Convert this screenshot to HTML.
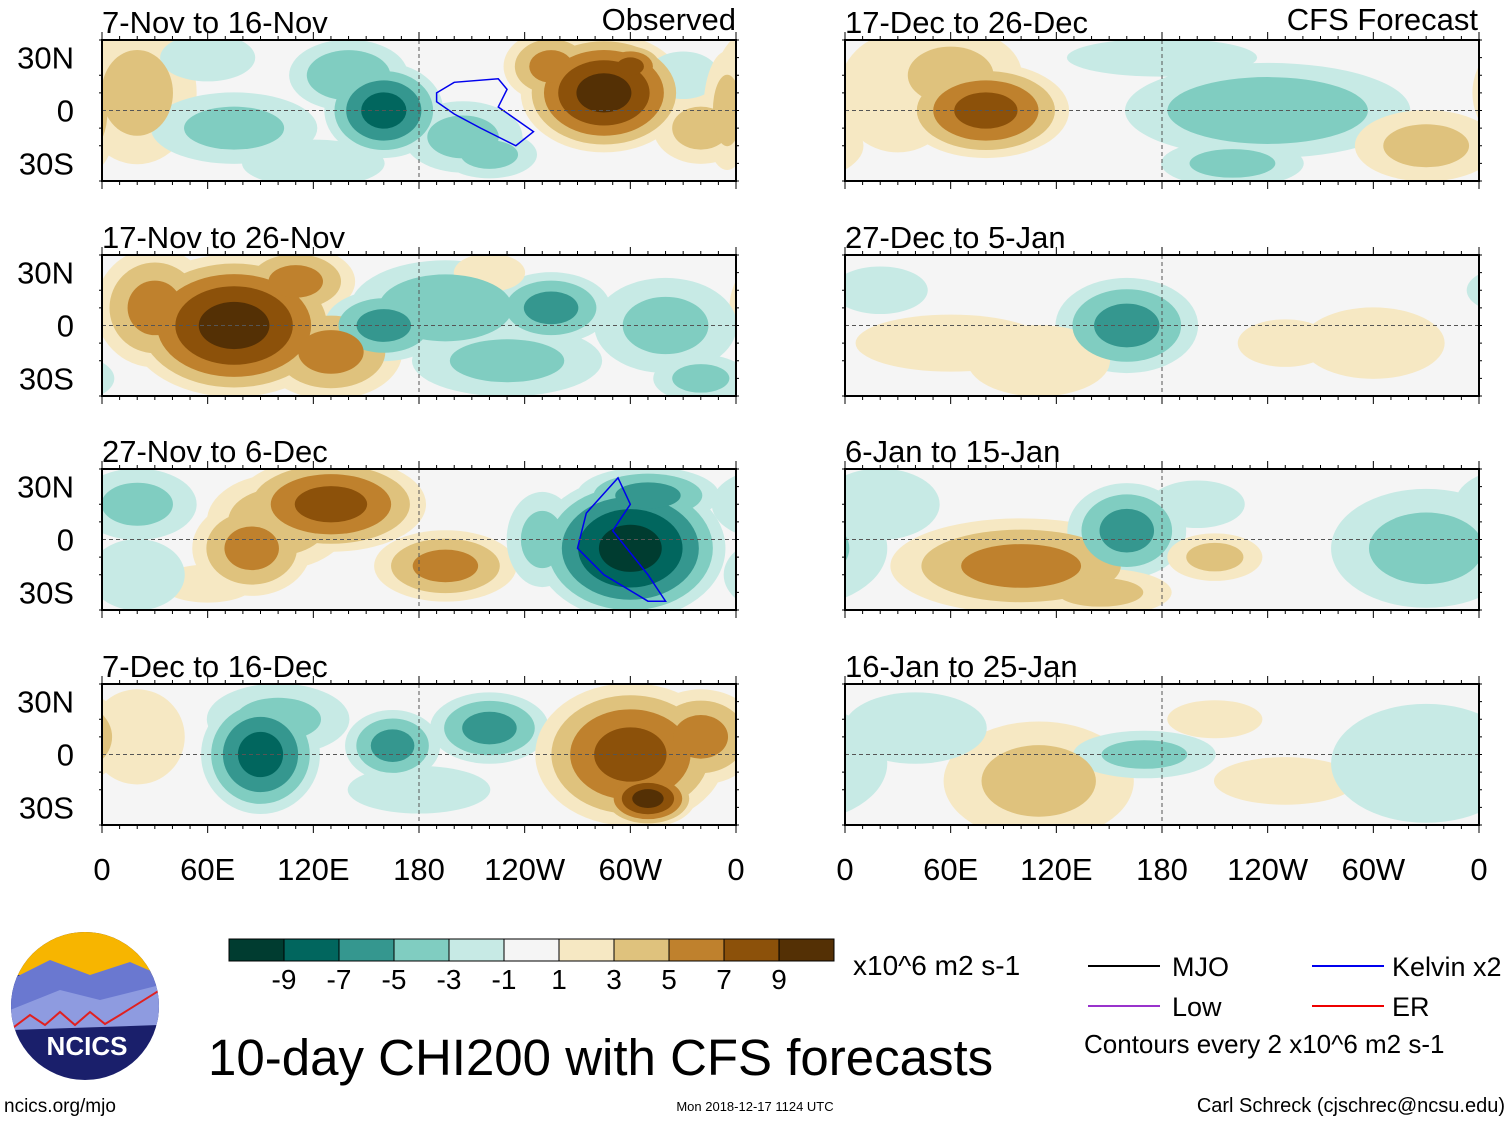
<!DOCTYPE html>
<html><head><meta charset="utf-8"><style>
body{margin:0;background:#fff;width:1510px;height:1121px;overflow:hidden;font-family:"Liberation Sans",sans-serif}
svg text{font-family:"Liberation Sans",sans-serif}
</style></head><body>
<svg id="chart" width="1510" height="1121" xmlns="http://www.w3.org/2000/svg"></svg>
<script>
// Contour levels and colours
const levels = [-11,-9,-7,-5,-3,-1,1,3,5,7,9,11];
const colors = ["#003c30","#01665e","#35978f","#80cdc1","#c7eae5","#f5f5f5","#f6e8c3","#dfc27d","#bf812d","#8c510a","#543005"];
const cbLabels = ["-9","-7","-5","-3","-1","1","3","5","7","9"];
const lonTicks = ["0","60E","120E","180","120W","60W","0"];
const latTicks = ["30N","0","30S"];
const titles = ["7-Nov to 16-Nov","17-Nov to 26-Nov","27-Nov to 6-Dec","7-Dec to 16-Dec",
  "17-Dec to 26-Dec","27-Dec to 5-Jan","6-Jan to 15-Jan","16-Jan to 25-Jan"];
// blobs: [lon, lat, value, lonRadius, latRadius]
const blobs0 = [[20,10,3,25,30],[75,-10,-3,35,15],[60,30,-2,20,10],[140,20,-4,25,15],[160,0,-7,25,20],[205,-15,-3,25,15],[220,-25,-3,20,10],[285,10,9,35,25],[300,25,7,15,10],[255,25,5,20,15],[340,-10,3,20,15],[330,20,-2,15,10],[120,-30,-2,30,10],[355,0,3,10,25]];
const blobs1 = [[75,0,9,45,30],[30,10,5,25,25],[110,25,5,25,15],[130,-15,5,30,20],[160,0,-5,25,15],[195,10,-4,40,20],[255,10,-5,25,15],[230,-20,-3,40,15],[320,0,-3,30,20],[340,-30,-3,20,10],[220,30,2,15,8]];
const blobs2 = [[130,20,7,40,20],[85,-5,5,25,20],[100,10,4,30,20],[20,20,-3,25,15],[60,-25,2,20,8],[195,-15,5,30,15],[300,-5,-9,40,30],[310,25,-5,30,12],[250,0,-3,15,20],[20,-20,-2,20,15]];
const blobs3 = [[90,0,-7,25,25],[100,20,-3,30,15],[165,5,-5,20,15],[220,15,-5,25,15],[300,0,7,40,30],[310,-25,9,20,12],[340,10,5,25,20],[20,10,2,20,20],[180,-20,-2,30,10]];
const blobs4 = [[80,0,7,35,20],[60,20,3,30,20],[240,0,-4,60,20],[220,-30,-3,30,10],[30,10,2,25,25],[330,-20,3,30,15],[180,30,-2,40,8]];
const blobs5 = [[160,0,-5,30,20],[60,-10,2,40,12],[110,-20,2,30,15],[300,-10,2,30,15],[250,-10,2,20,10],[20,20,-1,20,10]];
const blobs6 = [[100,-15,5,55,20],[160,5,-5,25,20],[200,20,-2,20,10],[210,-10,3,20,10],[330,-5,-3,40,25],[20,20,-2,25,15],[145,-30,3,30,10]];
const blobs7 = [[110,-15,3,40,25],[170,0,-3,30,10],[250,-15,2,30,10],[330,-5,-2,40,25],[40,15,-2,30,15],[210,20,1,20,8]];
const allBlobs = [blobs0,blobs1,blobs2,blobs3,blobs4,blobs5,blobs6,blobs7];
// Kelvin contours: [lon,lat] points
const kelvin0 = [[190,10],[200,16],[225,18],[230,12],[225,2],[245,-12],[235,-20],[215,-10],[200,-2],[190,5]];
const kelvin2 = [[293,35],[300,20],[290,5],[310,-20],[320,-35],[310,-35],[285,-20],[270,-5],[275,15],[293,35]];

const svg = document.getElementById('chart');
const NS = 'http://www.w3.org/2000/svg';
function mk(t,a,p){const e=document.createElementNS(NS,t);for(const k in a)e.setAttribute(k,a[k]);(p||svg).appendChild(e);return e;}
const PW=634, PH=141, lefts=[102,845], tops=[40,255,469,684];
const SPREAD=1.35;
function xs(px,lon){return px+lon*PW/360;}
function ys(py,lat){return py+PH/2-lat*PH/80;}
function colorFor(th,sign){
  const idx = sign>0 ? 5+ (th+1)/2 : 5-(th+1)/2;
  return colors[idx];
}
for(let p=0;p<8;p++){
  const px=lefts[p<4?0:1], py=tops[p%4];
  const g=mk('g',{});
  
  
  const cid='clip'+p;
  const cp=mk('clipPath',{id:cid},g);mk('rect',{x:px,y:py,width:PW,height:PH},cp);
  const inner=mk('g',{'clip-path':'url(#'+cid+')'},g);
  mk('rect',{x:px,y:py,width:PW,height:PH,fill:colors[5]},inner);
  for(const thr of [1,3,5,7,9]){
    for(const b of allBlobs[p]){
      const a=Math.abs(b[2]); if(a<thr) continue;
      const s=Math.pow((a-thr+1.5)/(a+0.5),0.6)*SPREAD;
      for(const off of [0,360,-360]){
        const e=mk('ellipse',{cx:xs(px,b[0]+off),cy:ys(py,b[1]),rx:b[3]*PW/360*s,ry:b[4]*PH/80*s,fill:colorFor(thr,Math.sign(b[2]))},inner);
        
        
      }
    }
  }
  const kv = p===0?kelvin0:p===2?kelvin2:null;
  if(kv){const pl=mk('polygon',{points:kv.map(q=>xs(px,q[0])+','+ys(py,q[1])).join(' '),fill:'none',stroke:'#0000ee','stroke-width':1.5},inner);
    }
  mk('line',{x1:px,x2:px+PW,y1:py+PH/2,y2:py+PH/2,stroke:'#555','stroke-dasharray':'4,3','stroke-width':1},g);
  mk('line',{x1:xs(px,180),x2:xs(px,180),y1:py,y2:py+PH,stroke:'#555','stroke-dasharray':'4,3','stroke-width':1},g);
  mk('rect',{x:px,y:py,width:PW,height:PH,fill:'none',stroke:'#000','stroke-width':2},g);
  for(let l=0;l<=360;l+=10){const x=xs(px,l),len=l%60===0?8:4;
    mk('line',{x1:x,x2:x,y1:py,y2:py-len,stroke:'#000'},g);mk('line',{x1:x,x2:x,y1:py+PH,y2:py+PH+len,stroke:'#000'},g);}
  for(let la=-40;la<=40;la+=10){const y=ys(py,la);
    mk('line',{x1:px,x2:px-(la%30===0?0:3),y1:y,y2:y,stroke:'#000'},g);mk('line',{x1:px+PW,x2:px+PW+3,y1:y,y2:y,stroke:'#000'},g);}
  const t=mk('text',{x:px,y:py-7,'font-size':31},g);t.textContent=titles[p];
  
  if(p<4){ [30,0,-30].forEach((la,i)=>{const tt=mk('text',{x:74,y:ys(py,la)+11,'font-size':31,'text-anchor':'end'},g);tt.textContent=latTicks[i];}); }
}
let h=mk('text',{x:736,y:30,'font-size':31,'text-anchor':'end'});h.textContent='Observed';

h=mk('text',{x:1478,y:30,'font-size':31,'text-anchor':'end'});h.textContent='CFS Forecast';

for(const px of lefts){lonTicks.forEach((l,i)=>{const t=mk('text',{x:px+i*PW/6,y:880,'font-size':31,'text-anchor':'middle'});t.textContent=l;
  });}
const cb=mk('g',{});
colors.forEach((c,i)=>mk('rect',{x:229+i*55,y:939,width:55,height:22,fill:c,stroke:'#000'},cb));
cbLabels.forEach((l,i)=>{const t=mk('text',{x:284+i*55,y:989,'font-size':28,'text-anchor':'middle'},cb);t.textContent=l;});
let t=mk('text',{x:853,y:975,'font-size':28});t.textContent='x10^6 m2 s-1';
t=mk('text',{x:208,y:1075,'font-size':51});t.textContent='10-day CHI200 with CFS forecasts';

const lg=mk('g',{});
[[1088,966,'#000','MJO',1172],[1312,966,'#0000ee','Kelvin x2',1392],[1088,1006,'#9933cc','Low',1172],[1312,1006,'#ee0000','ER',1392]].forEach(d=>{
  mk('line',{x1:d[0],x2:d[0]+72,y1:d[1],y2:d[1],stroke:d[2],'stroke-width':2},lg);
  const tt=mk('text',{x:d[4],y:d[1]+10,'font-size':27},lg);tt.textContent=d[3];});
t=mk('text',{x:1084,y:1053,'font-size':26});t.textContent='Contours every 2 x10^6 m2 s-1';
t=mk('text',{x:4,y:1112,'font-size':19});t.textContent='ncics.org/mjo';
t=mk('text',{x:755,y:1111,'font-size':13,'text-anchor':'middle'});t.textContent='Mon 2018-12-17 1124 UTC';
t=mk('text',{x:1505,y:1112,'font-size':20,'text-anchor':'end'});t.textContent='Carl Schreck (cjschrec@ncsu.edu)';
const lo=mk('g',{});
const lcp=mk('clipPath',{id:'lc'},lo);mk('circle',{cx:85,cy:1006,r:74},lcp);
const lg2=mk('g',{'clip-path':'url(#lc)'},lo);
mk('rect',{x:10,y:930,width:150,height:160,fill:'#1a1f6b'},lg2);
mk('rect',{x:10,y:930,width:150,height:45,fill:'#f7b500'},lg2);
mk('path',{d:'M10 980 L50 960 L90 975 L130 962 L160 975 L160 1000 L10 1010Z',fill:'#6a78d0'},lg2);
mk('path',{d:'M10 1010 L60 990 L100 1000 L160 985 L160 1025 L10 1030Z',fill:'#8e9be0'},lg2);
mk('path',{d:'M10 1030 L30 1015 L45 1025 L60 1012 L75 1025 L90 1012 L105 1024 L120 1015 L160 990',fill:'none',stroke:'#e02020','stroke-width':2},lg2);
t=mk('text',{x:87,y:1055,'font-size':26,'font-weight':'bold',fill:'#fff','text-anchor':'middle'},lo);t.textContent='NCICS';
</script>
</body></html>
